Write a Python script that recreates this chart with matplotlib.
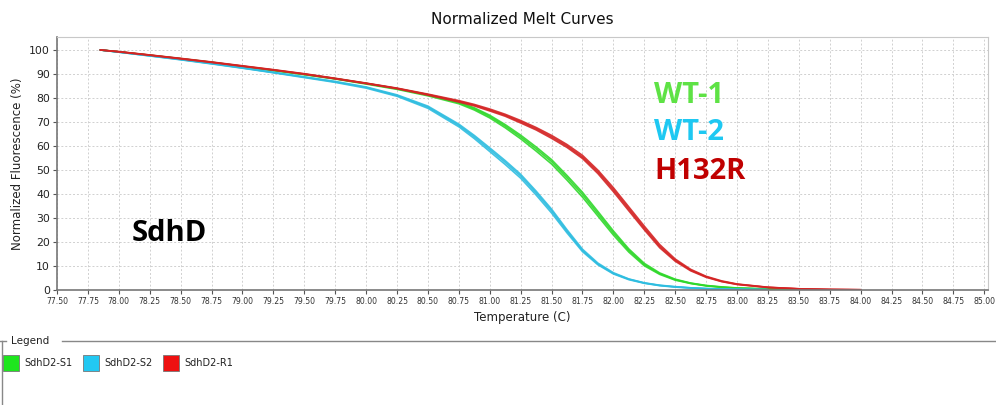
import numpy as np
import matplotlib
matplotlib.use("Agg")
import matplotlib.pyplot as plt
from matplotlib.patches import Rectangle
from matplotlib.lines import Line2D

# --- Data ---
temps = [77.85, 78.0, 78.25, 78.5, 78.75, 79.0, 79.25, 79.5, 79.75, 80.0, 80.25, 80.5,
         80.75, 80.875, 81.0, 81.125, 81.25, 81.375, 81.5, 81.625, 81.75, 81.875, 82.0,
         82.125, 82.25, 82.375, 82.5, 82.625, 82.75, 82.875, 83.0, 83.25, 83.5, 83.75, 84.0]

nan = np.nan

# SdhD2-S1 (WT-1), green replicates
s1_rep1 = [100, 99.2, 97.8, 96.3, 94.8, 93.1, 91.5, 89.8, 88.0, 86.0, 83.8, 81.2,
           78.0, 75.5, 72.3, 68.3, 63.8, 58.8, 53.5, 46.8, 39.8, 31.8, 23.8,
           16.5, 10.6, 6.8, 4.3, 2.8, 1.8, 1.2, 0.8, 0.4, 0.2, nan, nan]
s1_rep2 = [100, 99.2, 97.7, 96.2, 94.7, 93.0, 91.4, 89.7, 87.9, 85.8, 83.6, 80.9,
           77.6, 75.0, 71.7, 67.6, 63.0, 57.9, 52.5, 45.8, 38.7, 30.8, 22.9,
           15.8, 10.1, 6.5, 4.1, 2.7, 1.7, 1.1, 0.7, 0.35, 0.15, nan, nan]
s1_rep3 = [100, 99.2, 97.8, 96.4, 94.9, 93.2, 91.6, 89.9, 88.1, 86.1, 83.9, 81.4,
           78.3, 75.9, 72.8, 68.9, 64.5, 59.6, 54.3, 47.7, 40.7, 32.7, 24.6,
           17.1, 11.1, 7.1, 4.5, 2.9, 1.9, 1.3, 0.85, 0.45, 0.2, nan, nan]

# SdhD2-S2 (WT-2), cyan replicates
s2_rep1 = [100, 99.1, 97.6, 96.0, 94.3, 92.5, 90.6, 88.7, 86.7, 84.4, 81.0, 76.2,
           68.6, 63.8, 58.5, 53.2, 47.5, 40.5, 33.0, 24.5, 16.5, 10.8, 6.9,
           4.5, 2.9, 1.9, 1.3, 0.9, 0.6, 0.4, 0.3, 0.15, nan, nan, nan]
s2_rep2 = [100, 99.1, 97.5, 95.9, 94.2, 92.4, 90.5, 88.5, 86.5, 84.1, 80.7, 75.7,
           68.0, 63.1, 57.7, 52.3, 46.6, 39.6, 32.1, 23.8, 16.0, 10.5, 6.7,
           4.3, 2.8, 1.8, 1.2, 0.8, 0.5, 0.35, 0.25, 0.1, nan, nan, nan]
s2_rep3 = [100, 99.1, 97.6, 96.1, 94.4, 92.6, 90.7, 88.8, 86.9, 84.6, 81.3, 76.6,
           69.1, 64.4, 59.2, 53.9, 48.2, 41.2, 33.7, 25.1, 17.0, 11.2, 7.2,
           4.6, 3.0, 2.0, 1.4, 0.9, 0.6, 0.4, 0.3, 0.15, nan, nan, nan]

# SdhD2-R1 (H132R), red replicates
r1_rep1 = [100, 99.3, 97.9, 96.4, 94.9, 93.3, 91.7, 90.0, 88.1, 86.1, 84.0, 81.4,
           78.6, 77.0, 75.0, 72.8, 70.1, 67.2, 63.8, 60.0, 55.4, 49.2, 41.8,
           33.8, 25.8, 18.2, 12.4, 8.3, 5.5, 3.6, 2.4, 1.1, 0.5, 0.2, 0.1]
r1_rep2 = [100, 99.3, 97.9, 96.5, 95.0, 93.4, 91.8, 90.1, 88.2, 86.2, 84.1, 81.6,
           78.9, 77.3, 75.4, 73.2, 70.6, 67.7, 64.4, 60.6, 56.1, 49.9, 42.6,
           34.6, 26.6, 18.9, 12.9, 8.6, 5.7, 3.8, 2.5, 1.15, 0.5, 0.25, 0.1]
r1_rep3 = [100, 99.2, 97.8, 96.3, 94.8, 93.2, 91.6, 89.9, 88.0, 86.0, 83.9, 81.2,
           78.3, 76.7, 74.6, 72.4, 69.6, 66.7, 63.2, 59.4, 54.8, 48.5, 41.0,
           33.0, 25.1, 17.6, 12.0, 8.0, 5.3, 3.5, 2.3, 1.05, 0.45, 0.2, 0.1]

sample_names = ["SdhD2-S1", "SdhD2-S2", "SdhD2-R1"]
sample_reps = [[s1_rep1, s1_rep2, s1_rep3],
               [s2_rep1, s2_rep2, s2_rep3],
               [r1_rep1, r1_rep2, r1_rep3]]
line_colors = ["#2fd82a", "#2ebde0", "#d42424"]
legend_colors = ["#1ee61e", "#22c8f2", "#ee1111"]

group_labels = ["WT-1", "WT-2", "H132R"]
group_label_colors = ["#5ee245", "#1ec8f2", "#c00000"]
group_label_y = [81, 65.5, 49.5]

x_ticks = np.arange(77.5, 85.01, 0.25)
y_ticks = list(range(0, 101, 10))

W, H = 996, 405


def fx(px):
    return px / W


def fy(py):
    return 1 - py / H


fig = plt.figure(figsize=(W / 100, H / 100), dpi=100)
fig.patch.set_facecolor("white")
ax = fig.add_axes([fx(57), fy(290), fx(988) - fx(57), fy(37) - fy(290)])

for reps, col in zip(sample_reps, line_colors):
    for rep in reps:
        ax.plot(temps, rep, color=col, lw=1.2, alpha=0.9, solid_capstyle="round")

ax.set_xlim(77.5, 85.03)
ax.set_ylim(0, 105.4)
ax.set_xticks(x_ticks)
ax.set_xticklabels([f"{t:.2f}" for t in x_ticks], fontsize=5.6, color="#333333")
ax.set_yticks(y_ticks)
ax.set_yticklabels([str(v) for v in y_ticks], fontsize=7.8, color="#222222")
ax.tick_params(axis="both", length=3, width=0.8, color="#555555", pad=2)
ax.grid(True, color="#d0d0d0", linestyle=(0, (2, 2)), linewidth=0.7)
ax.set_axisbelow(True)
for side in ["top", "right"]:
    ax.spines[side].set_color("#c8c8c8")
for side in ["left", "bottom"]:
    ax.spines[side].set_color("#777777")
    ax.spines[side].set_linewidth(1.2)

ax.set_title("Normalized Melt Curves", fontsize=11, pad=9, color="#111111")
ax.set_xlabel("Temperature (C)", fontsize=8.5, labelpad=4, color="#222222")
ax.set_ylabel("Normalized Fluorescence (%)", fontsize=8.5, labelpad=4, color="#222222")

# big annotations
for lab, col, yv in zip(group_labels, group_label_colors, group_label_y):
    ax.text(82.33, yv, lab, color=col, fontsize=21, fontweight="bold",
            family="Open Sans", va="center", ha="left")
ax.text(78.1, 23.5, "SdhD", color="black", fontsize=21, fontweight="bold",
        family="Open Sans", va="center", ha="left")

# --- Legend panel ---
fig.add_artist(Line2D([fx(0), fx(6)], [fy(341), fy(341)], color="#888888", lw=1))
fig.add_artist(Line2D([fx(62), fx(996)], [fy(341), fy(341)], color="#888888", lw=1))
fig.add_artist(Line2D([fx(1.5), fx(1.5)], [fy(341), fy(405)], color="#888888", lw=1))
fig.text(fx(11), fy(341), "Legend", fontsize=7.5, va="center", ha="left", color="#222222")

x0 = 3
for name, col in zip(sample_names, legend_colors):
    fig.add_artist(Rectangle((fx(x0), fy(371)), fx(16), fy(355) - fy(371),
                             facecolor=col, edgecolor="#777777", lw=0.6))
    fig.text(fx(x0 + 21), fy(363), name, fontsize=7, va="center", ha="left", color="#222222")
    x0 += 80

fig.savefig("out.png", dpi=100, facecolor="white")
